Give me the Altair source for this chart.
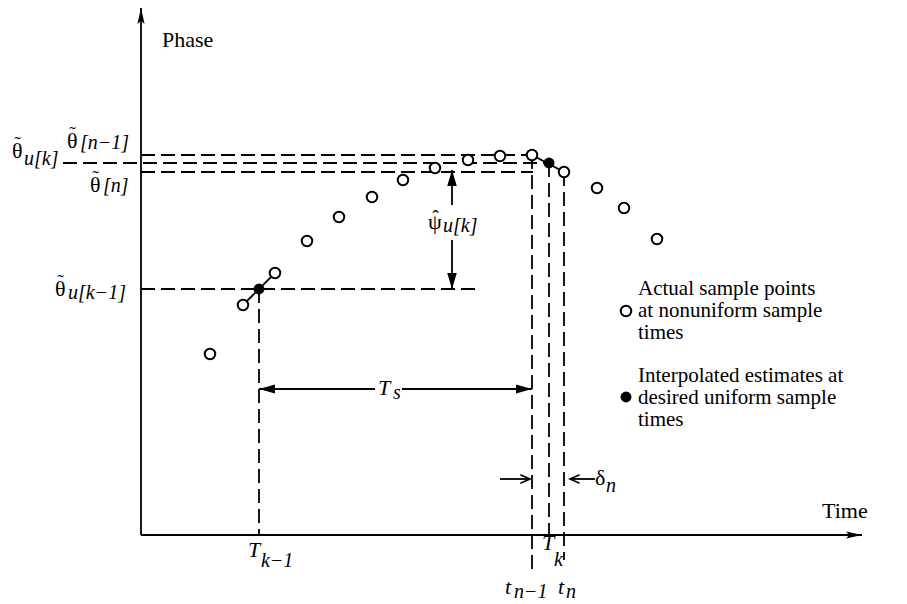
import altair as alt
import pandas as pd

# ---------------- data (diagram units, origin = axes crossing) ----------------
# actual sample points at nonuniform sample times
sample_time = [69, 102, 134, 166, 198, 231, 262, 294, 327, 359, 391, 423, 456, 483, 516]
sample_phase = [181, 230, 262, 294, 318, 338, 355, 367, 375, 379, 380, 363, 347, 327, 296]
# interpolated estimates at desired uniform sample times (T_{k-1}, T_k)
interp_time = [118, 408]
interp_phase = [246, 372]
# legend markers
legend_time = [485, 485]
legend_phase = [224, 138]
legend_filled = [False, True]

# dashed guide segments: (t1, p1, t2, p2)
dash_t1 = [0, -78, 0, 0, 118, 391, 408, 423]
dash_p1 = [380, 372, 363, 246, 246, 380, 372, 363]
dash_t2 = [391, 408, 392, 336, 118, 391, 408, 423]
dash_p2 = [380, 372, 363, 246, 0, -38, 0, -25]

# solid segments: axes, interpolation lines, Ts / psi / delta arrows
solid_t1 = [0, 0, 102, 391, 118, 261, 311, 311, 359, 429]
solid_p1 = [0, 0, 230, 380, 146, 146, 365, 295, 56, 56]
solid_t2 = [0, 721, 134, 423, 234, 391, 311, 311, 389, 454]
solid_p2 = [527, 0, 262, 363, 146, 146, 330, 246, 56, 56]

# filled arrow heads
head_t = [0, 721, 118, 391, 311, 311]
head_p = [527, 0, 146, 146, 365, 246]
head_shape = [
    "M0,0 L-0.45,2 L0,1.6 L0.45,2 Z",
    "M0,0 L-2,-0.45 L-1.6,0 L-2,0.45 Z",
    "M0,0 L2,-0.56 L2,0.56 Z",
    "M0,0 L-2,-0.56 L-2,0.56 Z",
    "M0,0 L-0.6,2 L0.6,2 Z",
    "M0,0 L-0.6,-2 L0.6,-2 Z",
]
# open arrow heads (delta_n)
open_t = [389, 429]
open_p = [56, 56]
open_shape = ["M-1.6,-0.7 L0,0 L-1.6,0.7", "M1.6,-0.7 L0,0 L1.6,0.7"]

# upright text pieces
label_text = ["Phase", "Time",
              "Actual sample points", "at nonuniform sample", "times",
              "Interpolated estimates at", "desired uniform sample", "times",
              "\u03b8", "\u03b8", "\u03b8", "\u03b8", "\u03c8", "\u03b4"]
label_t = [21, 681, 497, 497, 497, 497, 497, 497, -129, -74, -51, -86, 287, 454]
label_p = [495, 24, 246, 224, 202, 159, 137, 115, 384, 394, 350, 246, 313, 57]
label_size = [22, 22, 21, 21, 21, 21, 21, 21, 22, 22, 22, 22, 22, 22]

# accents above the Greek letters (tilde on theta, hat on psi)
accent_text = ["\u02dc", "\u02dc", "\u02dc", "\u02dc", "\u02c6"]
accent_t = [-123.5, -68.5, -45.5, -80.5, 294.5]
accent_p = [390, 400, 356, 252, 316]

# italic text pieces
ital_text = ["T", "k\u22121", "T", "k", "t", "n\u22121", "t", "n", "n", "T", "s",
             "u[k]", "[n\u22121]", "[n]", "u[k\u22121]", "u[k]"]
ital_t = [107, 120, 401, 413, 364, 373, 417, 425, 465, 237, 252,
          -117, -61, -38, -73, 302]
ital_p = [-15, -26, -8, -25, -52, -57, -52, -57, 49, 147, 142,
          376, 392, 349, 242, 309]
ital_size = [22, 20, 22, 20, 22, 20, 22, 20, 20, 22, 20,
             20, 20, 20, 20, 20]

# ---------------- chart ----------------
xs = alt.Scale(domain=[-141, 766], nice=False, zero=False)
ys = alt.Scale(domain=[-69, 535], nice=False, zero=False)
FONT = "Liberation Serif"


def X(f):
    return alt.X(f, type="quantitative", scale=xs, axis=None)


def Y(f):
    return alt.Y(f, type="quantitative", scale=ys, axis=None)


dash_df = pd.DataFrame({"t": dash_t1, "p": dash_p1, "t2": dash_t2, "p2": dash_p2})
solid_df = pd.DataFrame({"t": solid_t1, "p": solid_p1, "t2": solid_t2, "p2": solid_p2})
samples_df = pd.DataFrame({"t": sample_time, "p": sample_phase})
interp_df = pd.DataFrame({"t": interp_time, "p": interp_phase})
leg_df = pd.DataFrame({"t": legend_time, "p": legend_phase, "f": legend_filled})
head_df = pd.DataFrame({"t": head_t, "p": head_p, "s": head_shape})
open_df = pd.DataFrame({"t": open_t, "p": open_p, "s": open_shape})
lab_df = pd.DataFrame({"t": label_t, "p": label_p, "txt": label_text, "sz": label_size})
acc_df = pd.DataFrame({"t": accent_t, "p": accent_p, "txt": accent_text})
ital_df = pd.DataFrame({"t": ital_t, "p": ital_p, "txt": ital_text, "sz": ital_size})

dashed = alt.Chart(dash_df).mark_rule(
    color="black", strokeWidth=1.8, strokeDash=[14, 6], strokeCap="butt"
).encode(x=X("t"), y=Y("p"), x2="t2", y2="p2")

solid = alt.Chart(solid_df).mark_rule(
    color="black", strokeWidth=1.8
).encode(x=X("t"), y=Y("p"), x2="t2", y2="p2")

samples = alt.Chart(samples_df).mark_point(
    shape="circle", filled=False, stroke="black", fill="white", strokeWidth=2,
    size=110, opacity=1
).encode(x=X("t"), y=Y("p"))

interp = alt.Chart(interp_df).mark_point(
    shape="circle", filled=True, color="black", size=120, opacity=1
).encode(x=X("t"), y=Y("p"))

leg_open = alt.Chart(leg_df[~leg_df["f"]]).mark_point(
    shape="circle", filled=False, stroke="black", strokeWidth=2, size=110, opacity=1
).encode(x=X("t"), y=Y("p"))

leg_fill = alt.Chart(leg_df[leg_df["f"]]).mark_point(
    shape="circle", filled=True, color="black", size=120, opacity=1
).encode(x=X("t"), y=Y("p"))

heads = alt.Chart(head_df).mark_point(
    filled=True, color="black", size=256, opacity=1, strokeWidth=0
).encode(x=X("t"), y=Y("p"), shape=alt.Shape("s:N", scale=None))

opens = alt.Chart(open_df).mark_point(
    filled=False, stroke="black", strokeWidth=1.6, size=144, opacity=1
).encode(x=X("t"), y=Y("p"), shape=alt.Shape("s:N", scale=None))

labels = alt.Chart(lab_df).mark_text(
    font=FONT, align="left", baseline="middle", color="black"
).encode(x=X("t"), y=Y("p"), text="txt:N", size=alt.Size("sz:Q", scale=None))

accents = alt.Chart(acc_df).mark_text(
    font=FONT, align="center", baseline="middle", color="black", fontSize=20
).encode(x=X("t"), y=Y("p"), text="txt:N")

ital = alt.Chart(ital_df).mark_text(
    font=FONT, fontStyle="italic", align="left", baseline="middle", color="black"
).encode(x=X("t"), y=Y("p"), text="txt:N", size=alt.Size("sz:Q", scale=None))

chart = alt.layer(
    dashed, solid, samples, interp, leg_open, leg_fill, heads, opens,
    labels, accents, ital
).properties(
    width=907, height=604, padding=0, autosize=alt.AutoSizeParams(type="none"),
    background="white"
).configure_view(stroke=None)

chart.save("out.html", embed_options={"renderer": "svg", "actions": False})
